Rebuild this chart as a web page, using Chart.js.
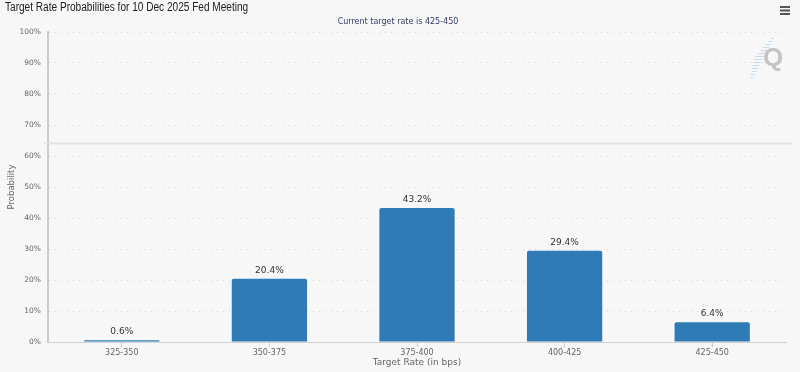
<!DOCTYPE html>
<html>
<head>
<meta charset="utf-8">
<script src="https://cdn.jsdelivr.net/npm/chart.js@4.4.0/dist/chart.umd.min.js"></script>
<style>
  html, body { margin: 0; padding: 0; background: #f7f7f7; }
  #wrap { width: 800px; height: 372px; position: relative; }
</style>
</head>
<body>
<div id="wrap"><canvas id="myChart" width="800" height="372"></canvas></div>
<script>
// data
const categories = ['325-350', '350-375', '375-400', '400-425', '425-450'];
const probabilities = [0.6, 20.4, 43.2, 29.4, 6.4];
const yTicks = [0, 10, 20, 30, 40, 50, 60, 70, 80, 90, 100];
const chartTitle = 'Target Rate Probabilities for 10 Dec 2025 Fed Meeting';
const chartSubtitle = 'Current target rate is 425-450';
const separatorValue = 64;

const barColor = '#2e7bb7';

// titles, menu icon, watermark and the grey separator line
const decorations = {
    id: 'decorations',
    beforeDraw(chart) {
        const ctx = chart.ctx;
        ctx.save();
        ctx.fillStyle = '#f7f7f7';
        ctx.fillRect(0, 0, chart.width, chart.height);
        ctx.restore();
    },
    beforeDatasetsDraw(chart) {
        const ctx = chart.ctx;
        const area = chart.chartArea;
        const y = chart.scales.y.getPixelForValue(separatorValue);
        ctx.save();
        ctx.strokeStyle = '#e3e3e3';
        ctx.lineWidth = 2;
        ctx.beginPath();
        ctx.moveTo(area.left - 4, y);
        ctx.lineTo(area.right + 6, y);
        ctx.stroke();

        // watermark: light blue streaks and a grey Q
        ctx.strokeStyle = 'rgba(160, 205, 235, 0.6)';
        ctx.lineWidth = 1;
        for (let i = 0; i < 14; i++) {
            const yy = 38 + i * 3;
            const xx = 774 - i * 1.6;
            const len = i < 7 ? 3 + i : 16 - i;
            ctx.beginPath();
            ctx.moveTo(xx - len, yy + 0.5);
            ctx.lineTo(xx, yy + 0.5);
            ctx.stroke();
        }
        ctx.fillStyle = '#c4c4c4';
        ctx.font = 'bold 26px "Liberation Sans", Arial, sans-serif';
        ctx.textAlign = 'center';
        ctx.textBaseline = 'middle';
        ctx.fillText('Q', 773, 59);
        ctx.restore();
    },
    afterDraw(chart) {
        const ctx = chart.ctx;
        ctx.save();
        // condensed title, like the narrow UI font of the original
        ctx.translate(5, 8);
        ctx.scale(0.84, 1);
        ctx.fillStyle = '#222';
        ctx.font = '12px "Liberation Sans", Arial, sans-serif';
        ctx.textAlign = 'left';
        ctx.textBaseline = 'middle';
        ctx.fillText(chartTitle, 0, 0);
        ctx.restore();

        ctx.save();
        ctx.fillStyle = '#33406b';
        ctx.font = '8px "DejaVu Sans", sans-serif';
        ctx.textAlign = 'center';
        ctx.textBaseline = 'middle';
        ctx.fillText(chartSubtitle, 398, 22);

        // menu icon
        ctx.fillStyle = '#555';
        for (let i = 0; i < 3; i++) {
            ctx.fillRect(780, 6 + i * 3.5, 10, 2);
        }
        ctx.restore();
    }
};

// value labels above the bars
const barLabels = {
    id: 'barLabels',
    afterDatasetsDraw(chart) {
        const ctx = chart.ctx;
        const meta = chart.getDatasetMeta(0);
        ctx.save();
        ctx.fillStyle = '#333';
        ctx.font = '9px "DejaVu Sans", sans-serif';
        ctx.textAlign = 'center';
        ctx.textBaseline = 'bottom';
        meta.data.forEach(function (bar, i) {
            ctx.fillText(probabilities[i] + '%', bar.x, bar.y - 4);
        });
        ctx.restore();
    }
};

const ctx = document.getElementById('myChart').getContext('2d');
const myChart = new Chart(ctx, {
    type: 'bar',
    data: {
        labels: categories,
        datasets: [{
            label: 'Probability',
            data: probabilities,
            backgroundColor: barColor,
            borderWidth: 0,
            borderRadius: { topLeft: 2, topRight: 2 },
            borderSkipped: 'bottom',
            barPercentage: 0.51,
            categoryPercentage: 1
        }]
    },
    options: {
        responsive: false,
        animation: false,
        layout: { padding: { top: 32, right: 14, left: 0, bottom: 0 } },
        plugins: {
            legend: { display: false },
            tooltip: { enabled: false }
        },
        scales: {
            x: {
                grid: {
                    display: true,
                    drawOnChartArea: false,
                    offset: false,
                    tickLength: 5,
                    color: '#cccccc'
                },
                border: { color: '#d0d0d0', width: 1 },
                ticks: {
                    color: '#666',
                    font: { size: 8, family: '"DejaVu Sans", sans-serif' },
                    padding: 1
                },
                title: {
                    display: true,
                    text: 'Target Rate (in bps)',
                    color: '#666',
                    font: { size: 9, family: '"DejaVu Sans", sans-serif' },
                    padding: { top: 0, bottom: 4 }
                },
                afterFit(scale) { scale.height = 30; }
            },
            y: {
                min: 0,
                max: 100,
                afterBuildTicks(scale) {
                    scale.ticks = yTicks.map(v => ({ value: v }));
                },
                grid: {
                    color: '#d6d6d6',
                    drawTicks: false,
                    lineWidth: 1
                },
                border: { color: '#cccccc', width: 2, dash: [1, 5] },
                ticks: {
                    color: '#666',
                    font: { size: 7.5, family: '"DejaVu Sans", sans-serif' },
                    padding: 7,
                    callback: v => v + '%'
                },
                title: {
                    display: true,
                    text: 'Probability',
                    color: '#666',
                    font: { size: 8.5, family: '"DejaVu Sans", sans-serif' },
                    padding: { top: 7, bottom: 0 }
                },
                afterFit(scale) { scale.width = 48; }
            }
        }
    },
    plugins: [decorations, barLabels]
});
</script>
</body>
</html>
